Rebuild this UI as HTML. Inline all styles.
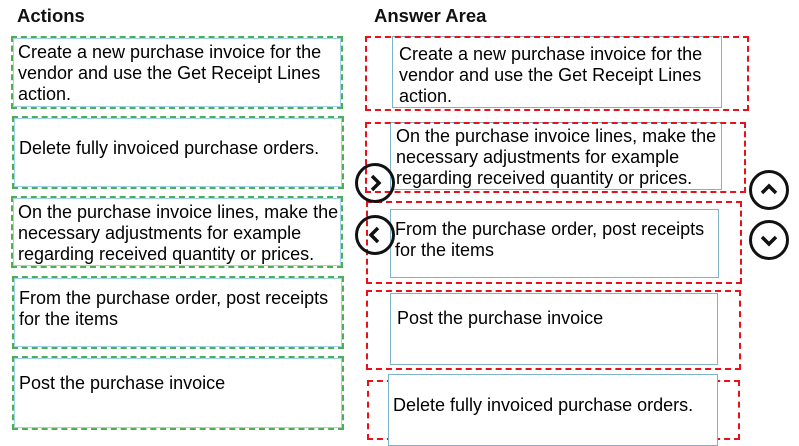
<!DOCTYPE html>
<html><head><style>
body{margin:0;width:799px;height:443px;background:#fff;position:relative;overflow:hidden;font-family:"Liberation Sans",Arial,sans-serif;}
.h{position:absolute;top:5px;font-weight:bold;font-size:18.5px;color:#111;}
.g{position:absolute;border:2px dashed #4caf50;box-shadow:inset 0 0 0 1px #9fd3e8;box-sizing:border-box;}
.r{position:absolute;border:2px dashed #e8101a;box-sizing:border-box;}
.b{position:absolute;border:1.5px solid #7fb3c8;background:#fff;box-sizing:border-box;}
.t{position:absolute;font-size:18px;line-height:21px;color:#000;white-space:nowrap;}
.c{position:absolute;width:40px;height:40px;border:3px solid #111;border-radius:50%;box-sizing:border-box;}
</style></head><body>
<div class="h" style="left:17px">Actions</div>
<div class="h" style="left:374px">Answer Area</div>

<div class="g" style="left:11px;top:36px;width:332px;height:73px"></div>
<div class="t" style="left:18px;top:42px">Create a new purchase invoice for the<br>vendor and use the Get Receipt Lines<br>action.</div>
<div class="g" style="left:12px;top:116px;width:332px;height:73px"></div>
<div class="t" style="left:19px;top:138px">Delete fully invoiced purchase orders.</div>
<div class="g" style="left:11px;top:196px;width:332px;height:72px"></div>
<div class="t" style="left:18px;top:202px">On the purchase invoice lines, make the<br>necessary adjustments for example<br>regarding received quantity or prices.</div>
<div class="g" style="left:12px;top:276px;width:332px;height:73px"></div>
<div class="t" style="left:19px;top:288px">From the purchase order, post receipts<br>for the items</div>
<div class="g" style="left:12px;top:356px;width:332px;height:74px"></div>
<div class="t" style="left:19px;top:373px">Post the purchase  invoice</div>

<div class="b" style="left:392px;top:36px;width:330px;height:72px"></div>
<div class="r" style="left:365px;top:36px;width:384px;height:75px"></div>
<div class="t" style="left:399px;top:44px">Create a new purchase invoice for the<br>vendor and use the Get Receipt Lines<br>action.</div>

<div class="b" style="left:390px;top:122px;width:332px;height:68px"></div>
<div class="r" style="left:365px;top:122px;width:381px;height:71px"></div>
<div class="t" style="left:396px;top:126px">On the purchase invoice lines, make the<br>necessary adjustments for example<br>regarding received quantity or prices.</div>

<div class="b" style="left:390px;top:209px;width:329px;height:69px"></div>
<div class="r" style="left:366px;top:201px;width:376px;height:83px"></div>
<div class="t" style="left:395px;top:219px">From the purchase order, post receipts<br>for the items</div>

<div class="b" style="left:390px;top:293px;width:328px;height:72px"></div>
<div class="r" style="left:366px;top:290px;width:375px;height:80px"></div>
<div class="t" style="left:397px;top:308px">Post the purchase  invoice</div>

<div class="r" style="left:367px;top:380px;width:373px;height:60px"></div>
<div class="b" style="left:388px;top:374px;width:330px;height:72px"></div>
<div class="t" style="left:393px;top:395px">Delete fully invoiced purchase orders.</div>

<div class="c" style="left:355px;top:163px"></div>
<svg style="position:absolute;left:355px;top:163px" width="40" height="40"><polyline points="17,13 24,20 17,27" fill="none" stroke="#111" stroke-width="3.5"/></svg>
<div class="c" style="left:355px;top:215px"></div>
<svg style="position:absolute;left:355px;top:215px" width="40" height="40"><polyline points="23,13 16,20 23,27" fill="none" stroke="#111" stroke-width="3.5"/></svg>
<div class="c" style="left:749px;top:170px"></div>
<svg style="position:absolute;left:749px;top:170px" width="40" height="40"><polyline points="13,23 20,16 27,23" fill="none" stroke="#111" stroke-width="3.5"/></svg>
<div class="c" style="left:749px;top:220px"></div>
<svg style="position:absolute;left:749px;top:220px" width="40" height="40"><polyline points="13,17 20,24 27,17" fill="none" stroke="#111" stroke-width="3.5"/></svg>
</body></html>
